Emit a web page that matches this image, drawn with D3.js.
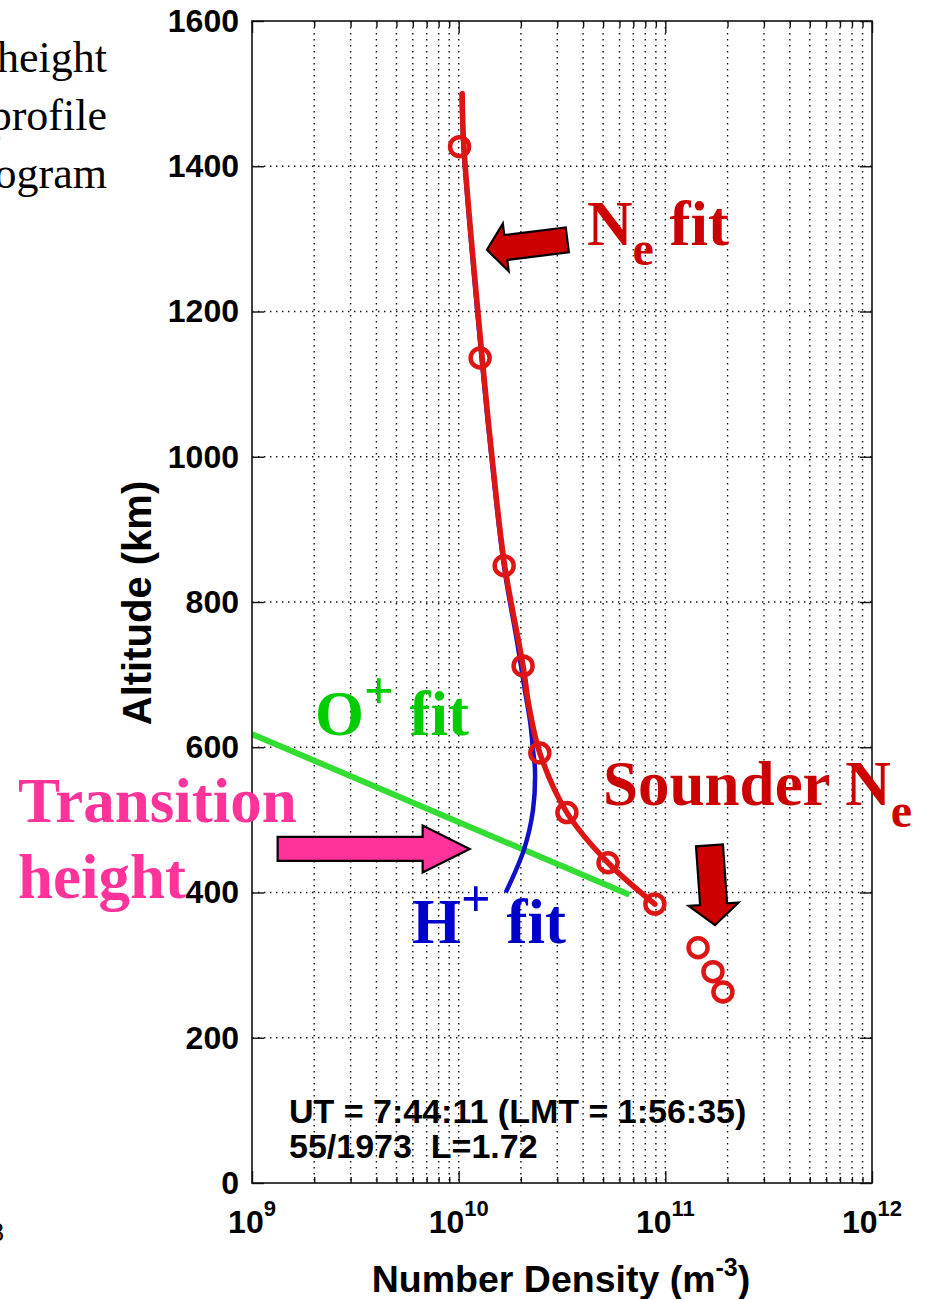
<!DOCTYPE html>
<html>

<head>
  <title>sounderProfile</title>
  <script src="https://d3js.org/d3.v7.min.js"></script>
  <style>
    body { margin: 0; background: #fff; }
  </style>
</head>

<body>
  <svg width="925" height="1299" id="mainsvg"></svg>
  <script>
    // tick values
    const xMajor = [1e9, 1e10, 1e11, 1e12];
    const xExp = ['9', '10', '11', '12'];
    const yTicks = [0, 200, 400, 600, 800, 1000, 1200, 1400, 1600];

    // Ne fit curve, altitude (km) and density (m^-3)
    const neFitAlt = [1500, 1427, 1136, 1000, 850, 712, 656, 592, 510, 441, 384];
    const neFitVal = [1.04e10, 1.06e10, 1.30e10, 1.45e10, 1.67e10, 2.05e10, 2.19e10, 2.47e10, 3.34e10, 5.28e10, 8.9e10];
    // Ne points on the fit
    const neObsAlt = [1427, 1136, 850, 712, 592, 510, 441, 384];
    const neObsVal = [1.01e10, 1.27e10, 1.66e10, 2.05e10, 2.47e10, 3.34e10, 5.28e10, 8.9e10];
    // sounder Ne points
    const sndAlt = [324, 291, 263];
    const sndVal = [1.44e11, 1.70e11, 1.90e11];
    // H+ fit (runs under the Ne fit at the top)
    const hFitAlt = [400, 459, 514, 569, 596, 634, 679, 748, 850, 1000, 1136, 1427, 1500];
    const hFitVal = [1.69e10, 2.07e10, 2.29e10, 2.34e10, 2.29e10, 2.22e10, 2.09e10, 1.91e10, 1.655e10, 1.44e10, 1.29e10, 1.055e10, 1.035e10];
    // O+ fit
    const oFitAlt = [618, 397];
    const oFitVal = [1e9, 6.7e10];

    const svg = d3.select('#mainsvg');
    const margin = { top: 21, left: 252, right: 53, bottom: 116 };
    const width = +svg.attr('width');
    const height = +svg.attr('height');

    const x = d3.scaleLog().domain([1e9, 1e12]).range([margin.left, width - margin.right]);
    const y = d3.scaleLinear().domain([0, 1600]).range([height - margin.bottom, margin.top]);

    const axisFont = 'Liberation Sans, Arial, sans-serif';
    const serif = 'Liberation Serif, Times New Roman, serif';

    // minor log ticks
    const xMinor = [];
    [1e9, 1e10, 1e11].forEach(d => {
      for (let k = 2; k <= 9; k++) xMinor.push(d * k);
    });

    svg.append('clipPath').attr('id', 'plotclip')
      .append('rect')
      .attr('x', x(1e9)).attr('y', y(1600))
      .attr('width', x(1e12) - x(1e9)).attr('height', y(0) - y(1600));

    // dotted grid
    const grid = svg.append('g').attr('stroke', '#111').attr('stroke-width', 1.4)
      .attr('stroke-dasharray', '1.4,4.6');
    grid.selectAll('.gv').data(xMinor.concat([1e10, 1e11])).join('line')
      .attr('x1', d => x(d)).attr('x2', d => x(d))
      .attr('y1', y(1600)).attr('y2', y(0));
    grid.selectAll('.gh').data(yTicks.slice(1, -1)).join('line')
      .attr('x1', x(1e9)).attr('x2', x(1e12))
      .attr('y1', d => y(d)).attr('y2', d => y(d));

    const plot = svg.append('g').attr('clip-path', 'url(#plotclip)');
    const line = d3.line().x(d => x(d[1])).y(d => y(d[0]));

    // O+ fit
    plot.append('path')
      .attr('d', line(d3.zip(oFitAlt, oFitVal)))
      .attr('fill', 'none').attr('stroke', '#33dd33').attr('stroke-width', 6);

    // H+ fit
    plot.append('path')
      .attr('d', line.curve(d3.curveCatmullRom)(d3.zip(hFitAlt, hFitVal)))
      .attr('fill', 'none').attr('stroke', '#1010c8').attr('stroke-width', 4.5);

    // Ne fit
    plot.append('path')
      .attr('d', line.curve(d3.curveCatmullRom)(d3.zip(neFitAlt, neFitVal)))
      .attr('fill', 'none').attr('stroke', '#dd1515').attr('stroke-width', 5.5)
      .attr('stroke-linecap', 'round');

    plot.selectAll('.obs').data(d3.zip(neObsAlt, neObsVal).concat(d3.zip(sndAlt, sndVal))).join('circle')
      .attr('cx', d => x(d[1])).attr('cy', d => y(d[0])).attr('r', 9.5)
      .attr('fill', 'none').attr('stroke', '#dd1515').attr('stroke-width', 4.5);

    // axes, ticks pointing inward
    const setAxis = (gr) => { gr.select('.domain').remove(); gr.selectAll('line').attr('stroke', '#111').attr('stroke-width', 1.4); };
    svg.append('g').attr('transform', `translate(0,${y(0)})`)
      .call(d3.axisBottom(x).tickValues(xMajor).tickSize(-12).tickFormat('')).call(setAxis);
    svg.append('g').attr('transform', `translate(0,${y(0)})`)
      .call(d3.axisBottom(x).tickValues(xMinor).tickSize(-6).tickFormat('')).call(setAxis);
    svg.append('g').attr('transform', `translate(0,${y(1600)})`)
      .call(d3.axisTop(x).tickValues(xMajor).tickSize(-12).tickFormat('')).call(setAxis);
    svg.append('g').attr('transform', `translate(0,${y(1600)})`)
      .call(d3.axisTop(x).tickValues(xMinor).tickSize(-6).tickFormat('')).call(setAxis);
    svg.append('g').attr('transform', `translate(${x(1e12)},0)`)
      .call(d3.axisRight(y).tickValues(yTicks).tickSize(-12).tickFormat('')).call(setAxis);

    const yAxisG = svg.append('g').attr('transform', `translate(${x(1e9)},0)`)
      .call(d3.axisLeft(y).tickValues(yTicks).tickSize(-12).tickPadding(13).tickFormat(d3.format('d')))
      .call(setAxis);
    yAxisG.selectAll('text')
      .attr('font-family', axisFont).attr('font-size', 32).attr('font-weight', 'bold').attr('fill', '#000');

    svg.append('rect')
      .attr('x', x(1e9)).attr('y', y(1600))
      .attr('width', x(1e12) - x(1e9)).attr('height', y(0) - y(1600))
      .attr('fill', 'none').attr('stroke', '#111').attr('stroke-width', 1.6);

    // x tick labels 10^n
    const xl = svg.selectAll('.xl').data(xMajor).join('text')
      .attr('x', d => x(d)).attr('y', y(0) + 50)
      .attr('text-anchor', 'middle')
      .attr('font-family', axisFont).attr('font-size', 32).attr('font-weight', 'bold');
    xl.append('tspan').text('10');
    xl.append('tspan').attr('dy', -17).attr('font-size', 22).text((d, i) => xExp[i]);

    // axis titles
    const xt = svg.append('text')
      .attr('x', 561).attr('y', 1292).attr('text-anchor', 'middle')
      .attr('font-family', axisFont).attr('font-size', 37.5).attr('font-weight', 'bold');
    xt.append('tspan').text('Number Density (m');
    xt.append('tspan').attr('dy', -16).attr('font-size', 25).text('-3');
    xt.append('tspan').attr('dy', 16).text(')');

    svg.append('text')
      .attr('transform', 'translate(151,603) rotate(-90)').attr('text-anchor', 'middle')
      .attr('font-family', axisFont).attr('font-size', 40).attr('font-weight', 'bold')
      .text('Altitude (km)');

    // info text inside axes
    svg.append('text').attr('x', 289).attr('y', 1123)
      .attr('font-family', axisFont).attr('font-size', 34).attr('font-weight', 'bold')
      .text('UT = 7:44:11 (LMT = 1:56:35)');
    svg.append('text').attr('x', 289).attr('y', 1158)
      .attr('font-family', axisFont).attr('font-size', 34).attr('font-weight', 'bold')
      .attr('xml:space', 'preserve').style('white-space', 'pre')
      .text('55/1973  L=1.72');

    // slide text cut off at the left edge, as in the source slide
    ['height', 'profile', 'program'].forEach((t, i) => {
      svg.append('text').attr('x', 107).attr('y', 72 + i * 58).attr('text-anchor', 'end')
        .attr('font-family', serif).attr('font-size', 44).text(t);
    });
    svg.append('text').attr('x', 4).attr('y', 1241).attr('text-anchor', 'end')
      .attr('font-family', serif).attr('font-size', 28).text('8');

    // block arrows, tip given in data space
    function arrow(tipVal, tipAlt, angleDeg, len, shaftW, headW, headL, fill) {
      const pts = [[0, 0], [headL, -headW / 2], [headL, -shaftW / 2], [len, -shaftW / 2],
        [len, shaftW / 2], [headL, shaftW / 2], [headL, headW / 2]];
      svg.append('polygon')
        .attr('points', pts.map(p => p.join(',')).join(' '))
        .attr('transform', `translate(${x(tipVal)},${y(tipAlt)}) rotate(${angleDeg})`)
        .attr('fill', fill).attr('stroke', '#000').attr('stroke-width', 2.2)
        .attr('stroke-linejoin', 'miter');
    }
    arrow(1.37e10, 1285, -7, 81, 25, 48, 19, '#cc0000');
    arrow(1.13e10, 460, 180, 192, 24, 47, 47, '#ff3399');
    arrow(1.74e11, 355, -94, 80, 27, 50, 21, '#cc0000');

    // labels
    const ne = svg.append('text').attr('x', 587).attr('y', 245)
      .attr('font-family', serif).attr('font-size', 63).attr('font-weight', 'bold').attr('fill', '#cc0000');
    ne.append('tspan').text('N');
    ne.append('tspan').attr('dy', 20).attr('font-size', 48).text('e');
    ne.append('tspan').attr('dy', -20).text(' fit');

    const snd = svg.append('text').attr('x', 603).attr('y', 805)
      .attr('font-family', serif).attr('font-size', 63).attr('font-weight', 'bold').attr('fill', '#cc0000');
    snd.append('tspan').text('Sounder N');
    snd.append('tspan').attr('dy', 22).attr('font-size', 48).text('e');

    const op = svg.append('text').attr('x', 315).attr('y', 735)
      .attr('font-family', serif).attr('font-size', 63).attr('font-weight', 'bold').attr('fill', '#00cc00');
    op.append('tspan').text('O');
    op.append('tspan').attr('dy', -27).attr('font-size', 52).text('+');
    op.append('tspan').attr('dy', 27).text(' fit');

    const hp = svg.append('text').attr('x', 412).attr('y', 943)
      .attr('font-family', serif).attr('font-size', 63).attr('font-weight', 'bold').attr('fill', '#0000cc');
    hp.append('tspan').text('H');
    hp.append('tspan').attr('dy', -27).attr('font-size', 52).text('+');
    hp.append('tspan').attr('dy', 27).text(' fit');

    ['Transition', 'height'].forEach((t, i) => {
      svg.append('text').attr('x', 18).attr('y', 822 + i * 76)
        .attr('font-family', serif).attr('font-size', 63).attr('font-weight', 'bold')
        .attr('fill', '#ff3399').text(t);
    });
  </script>
</body>

</html>
